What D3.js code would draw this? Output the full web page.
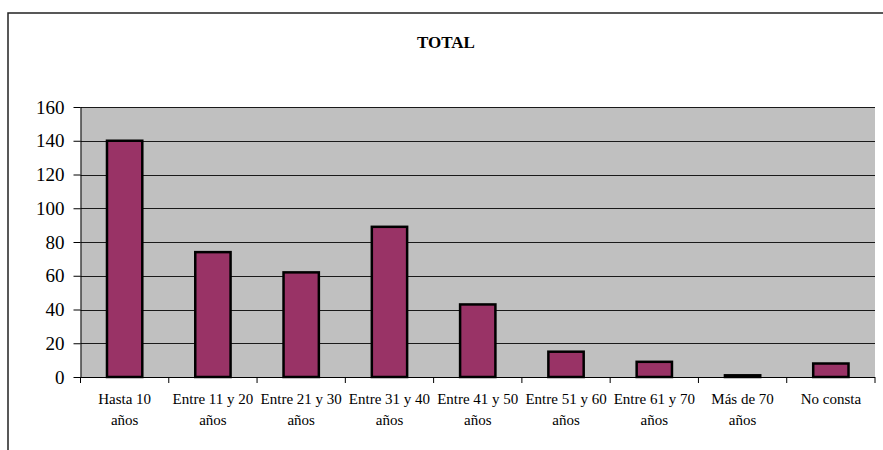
<!DOCTYPE html>
<html>
<head>
<meta charset="utf-8">
<script src="https://cdn.jsdelivr.net/npm/d3@7/dist/d3.min.js"></script>
<style>
  html, body { margin: 0; padding: 0; background: #fff; }
  svg { display: block; }
</style>
</head>
<body>
<svg id="chart" width="883" height="450"></svg>
<script>
const title = "TOTAL";
const categories = ["Hasta 10 años", "Entre 11 y 20 años", "Entre 21 y 30 años", "Entre 31 y 40 años",
  "Entre 41 y 50 años", "Entre 51 y 60 años", "Entre 61 y 70 años", "Más de 70 años", "No consta"];
const values = [140, 74, 62, 89, 43, 15, 9, 1, 8];
const yTicks = [0, 20, 40, 60, 80, 100, 120, 140, 160];

const FONT = "'Liberation Serif', 'Times New Roman', Tinos, 'DejaVu Serif', 'Noto Serif', serif";
const svg = d3.select("#chart");
const m = { left: 80.5, right: 875, top: 107, bottom: 377 };

svg.append("rect")
  .attr("x", 8).attr("y", 13).attr("width", 880).attr("height", 450)
  .attr("fill", "none").attr("stroke", "#222").attr("stroke-width", 1.5);

svg.append("text")
  .attr("x", 446).attr("y", 48)
  .attr("text-anchor", "middle")
  .style("font-family", FONT)
  .attr("font-weight", "bold")
  .attr("font-size", 17)
  .text(title);

const x = d3.scaleBand().domain(categories).range([m.left, m.right]);
const y = d3.scaleLinear().domain([0, 160]).range([m.bottom, m.top]);

svg.append("rect")
  .attr("x", m.left).attr("y", m.top)
  .attr("width", m.right - m.left).attr("height", m.bottom - m.top)
  .attr("fill", "#c0c0c0");

svg.append("g").selectAll("line")
  .data(yTicks.filter(d => d > 0))
  .join("line")
  .attr("x1", m.left).attr("x2", m.right)
  .attr("y1", d => Math.round(y(d)) + 0.5).attr("y2", d => Math.round(y(d)) + 0.5)
  .attr("stroke", "#1a1a1a").attr("stroke-width", 1);

const bw = x.bandwidth() * 0.4;
svg.append("g").selectAll("rect")
  .data(values)
  .join("rect")
  .attr("x", (d, i) => x(categories[i]) + (x.bandwidth() - bw) / 2)
  .attr("y", d => y(d))
  .attr("width", bw)
  .attr("height", d => y(0) - y(d))
  .attr("fill", "#993366")
  .attr("stroke", "#000")
  .attr("stroke-width", 2.5);

const yAxis = d3.axisLeft(y).tickValues(yTicks).tickSize(7).tickPadding(9).tickFormat(d3.format("d"));
const gy = svg.append("g").attr("transform", `translate(${m.left},0)`).call(yAxis);
gy.select(".domain").attr("stroke", "#000").attr("d", `M0.5,${m.top}V${m.bottom}`);
gy.selectAll(".tick line").attr("stroke", "#000");
gy.selectAll("text").attr("font-size", 19).style("font-family", FONT).attr("fill", "#000");

const boundaries = categories.map(c => x(c)).concat([m.right]);
const gx = svg.append("g");
gx.append("line")
  .attr("x1", m.left).attr("x2", m.right)
  .attr("y1", m.bottom + 0.5).attr("y2", m.bottom + 0.5)
  .attr("stroke", "#000");
gx.selectAll("line.tk")
  .data(boundaries)
  .join("line").attr("class", "tk")
  .attr("x1", d => d).attr("x2", d => d)
  .attr("y1", m.bottom).attr("y2", m.bottom + 6)
  .attr("stroke", "#000");

const labels = gx.selectAll("text")
  .data(categories)
  .join("text")
  .attr("x", d => x(d) + x.bandwidth() / 2)
  .attr("y", 404)
  .attr("text-anchor", "middle")
  .style("font-family", FONT)
  .attr("font-size", 15);
labels.each(function(d) {
  const parts = d.endsWith(" años") ? [d.slice(0, -5), "años"] : [d];
  const t = d3.select(this);
  const cx = t.attr("x");
  parts.forEach((p, i) => {
    t.append("tspan").attr("x", cx).attr("dy", i === 0 ? 0 : 20.5).text(p);
  });
});
</script>
</body>
</html>
